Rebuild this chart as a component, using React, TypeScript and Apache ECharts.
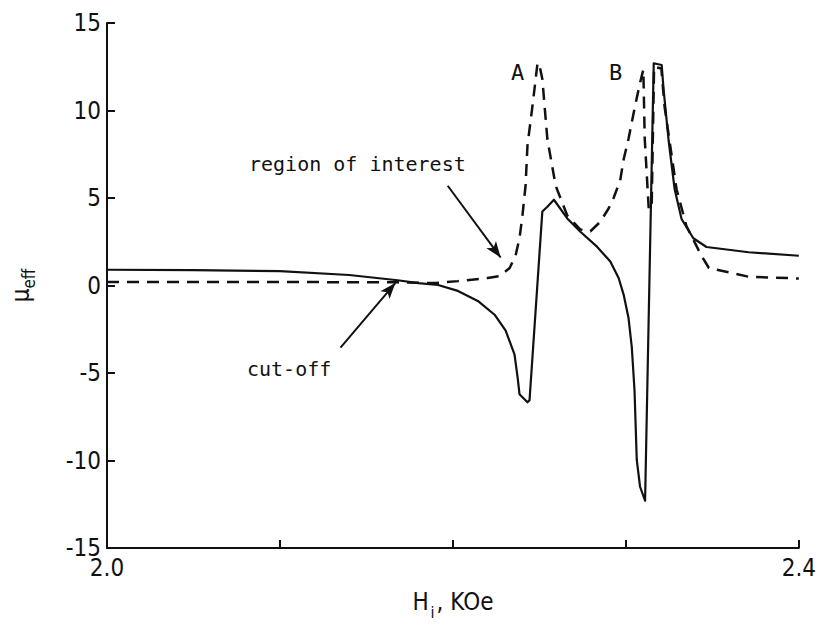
import React, { useEffect, useRef } from "react";
import * as echarts from "echarts";

// Effective permeability vs internal field (KOe)
const solidX = [2.0, 2.05, 2.1, 2.14, 2.168, 2.18, 2.1914, 2.2029, 2.2144, 2.2241, 2.2305, 2.2356, 2.2374, 2.2385, 2.2431, 2.2443, 2.2517, 2.2546, 2.2584, 2.2661, 2.2737, 2.2833, 2.291, 2.2958, 2.2987, 2.3015, 2.3034, 2.305, 2.3063, 2.3082, 2.3111, 2.3161, 2.3207, 2.3218, 2.3247, 2.3282, 2.3322, 2.339, 2.3466, 2.371, 2.4];
const solidY = [0.9, 0.88, 0.82, 0.6, 0.3, 0.14, 0.03, -0.31, -0.88, -1.67, -2.58, -3.94, -5.25, -6.21, -6.67, -6.55, 4.23, 4.5, 4.9, 3.83, 3.07, 2.22, 1.37, 0.43, -0.52, -1.84, -3.5, -6.0, -9.97, -11.5, -12.3, 12.7, 12.6, 11.2, 8.3, 5.5, 3.8, 2.7, 2.2, 1.9, 1.7];

const dashedX = [2.0, 2.1, 2.168, 2.19, 2.2029, 2.2201, 2.227, 2.2328, 2.2362, 2.2385, 2.2402, 2.242, 2.2431, 2.246, 2.2489, 2.2498, 2.2517, 2.2546, 2.2594, 2.2661, 2.2737, 2.2795, 2.2852, 2.29, 2.2929, 2.2967, 2.2987, 2.3015, 2.3053, 2.3082, 2.3101, 2.3109, 2.3132, 2.3149, 2.3163, 2.3205, 2.3224, 2.3293, 2.335, 2.3437, 2.348, 2.371, 2.4];
const dashedY = [0.2, 0.2, 0.18, 0.14, 0.25, 0.43, 0.54, 1.0, 1.7, 2.7, 4.0, 5.7, 8.0, 10.26, 12.7, 12.7, 11.8, 8.37, 5.7, 4.0, 3.2, 3.1, 3.64, 4.4, 5.0, 6.0, 7.2, 8.37, 10.26, 11.58, 12.34, 8.4, 4.4, 4.4, 12.5, 12.4, 10.2, 5.5, 3.4, 1.7, 1.0, 0.5, 0.4];

const xTicks = ["2.0", "", "", "", "2.4"];
const yTicks = [-15, -10, -5, 0, 5, 10, 15];

// annotation arrows: [from, to] in data coordinates
const roiArrow = [[2.197, 5.7], [2.2276, 1.6]];
const cutArrow = [[2.135, -3.55], [2.1667, 0.14]];

const FONT = "'Liberation Sans Narrow', 'DejaVu Sans Condensed', 'Liberation Sans', sans-serif";
const MONO = "'DejaVu Sans Mono', monospace";

export default function App() {
  const ref = useRef<HTMLDivElement>(null);
  useEffect(() => {
    document.body.style.margin = "0";
    const chart = echarts.init(ref.current!, null, { renderer: "svg" });
    const zip = (xs: number[], ys: number[]) => xs.map((x, i) => [x, ys[i]]);
    const arrow = (a: number[][]) => [{ coord: a[0], symbol: "none" }, { coord: a[1], symbol: "arrow" }];
    chart.setOption({
      animation: false,
      backgroundColor: "#fff",
      grid: { left: 107, right: 16, top: 23, bottom: 73 },
      xAxis: {
        type: "value",
        min: 2.0,
        max: 2.4,
        interval: 0.1,
        name: "{b|H}{s|i}{b|, KOe}",
        nameLocation: "middle",
        nameGap: 38,
        nameTextStyle: {
          rich: {
            b: { fontSize: 24, fontFamily: FONT, color: "#111", verticalAlign: "bottom", lineHeight: 28 },
            s: { fontSize: 16, fontFamily: FONT, color: "#111", verticalAlign: "bottom", lineHeight: 20, padding: [0, 2, -6, 2] },
          },
        },
        axisLine: { onZero: false, lineStyle: { color: "#111", width: 2 } },
        axisTick: { inside: true, length: 8, lineStyle: { color: "#111", width: 2 } },
        splitLine: { show: false },
        axisLabel: {
          fontSize: 24,
          fontFamily: FONT,
          color: "#111",
          margin: 8,
          formatter: (_v: number, i: number) => xTicks[i] ?? "",
        },
      },
      yAxis: {
        type: "value",
        min: -15,
        max: 15,
        interval: 5,
        name: "{m|μ}{s|eff}",
        nameLocation: "middle",
        nameRotate: 90,
        nameGap: 74,
        nameTextStyle: {
          rich: {
            m: { fontSize: 24, fontFamily: FONT, color: "#111", verticalAlign: "bottom", lineHeight: 28 },
            s: { fontSize: 17, fontFamily: FONT, color: "#111", verticalAlign: "bottom", lineHeight: 22, padding: [0, 0, -4, 0] },
          },
        },
        axisLine: { show: true, onZero: false, lineStyle: { color: "#111", width: 2 } },
        axisTick: { inside: true, length: 8, lineStyle: { color: "#111", width: 2 } },
        splitLine: { show: false },
        axisLabel: {
          fontSize: 24,
          fontFamily: FONT,
          color: "#111",
          margin: 6,
          formatter: (v: number) => (yTicks.includes(v) ? String(v) : ""),
        },
      },
      series: [
        {
          type: "line",
          data: zip(solidX, solidY),
          showSymbol: false,
          symbol: "none",
          lineStyle: { color: "#111", width: 2.2, join: "round" },
          z: 3,
          markLine: {
            silent: true,
            symbolSize: [9, 16],
            lineStyle: { color: "#111", width: 2, type: "solid" },
            label: { show: false },
            data: [arrow(roiArrow), arrow(cutArrow)],
          },
        },
        {
          type: "line",
          data: zip(dashedX, dashedY),
          showSymbol: false,
          symbol: "none",
          lineStyle: { color: "#111", width: 2.5, type: [12, 8] },
          z: 2,
        },
      ],
      graphic: [
        { type: "text", left: 511, top: 61, style: { text: "A", fontSize: 22, fontFamily: MONO, fill: "#111" } },
        { type: "text", left: 609, top: 61, style: { text: "B", fontSize: 22, fontFamily: MONO, fill: "#111" } },
        { type: "text", left: 249, top: 154, style: { text: "region of interest", fontSize: 20, fontFamily: MONO, fill: "#111" } },
        { type: "text", left: 247, top: 359, style: { text: "cut-off", fontSize: 20, fontFamily: MONO, fill: "#111" } },
      ],
    });
    return () => chart.dispose();
  }, []);
  return <div ref={ref} style={{ width: 819, height: 625 }} />;
}
